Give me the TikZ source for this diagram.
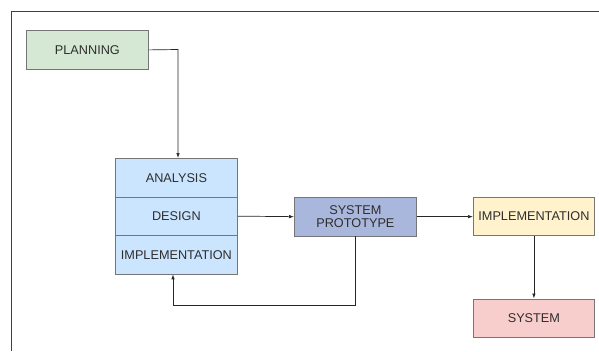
\documentclass[tikz,border=0pt]{standalone}
\usepackage{fontspec}
\setmainfont{Liberation Sans}
\usetikzlibrary{arrows.meta}
\definecolor{planfill}{HTML}{D5E8D4}
\definecolor{stackfill}{HTML}{CCE5FF}
\definecolor{protofill}{HTML}{A9B7DC}
\definecolor{implfill}{HTML}{FFF2CC}
\definecolor{sysfill}{HTML}{F8CECC}
\definecolor{boxline}{HTML}{767676}
\definecolor{txt}{HTML}{2E2E2E}
\tikzset{
  box/.style={draw=boxline, line width=0.8pt, minimum width=122pt, minimum height=38.5pt, inner sep=0pt, align=center, text=txt, font=\fontsize{12.7}{13.5}\selectfont, anchor=north west},
  conn/.style={draw=black!85, line width=0.7pt, -{Latex[length=5pt,width=3.5pt]}},
}
\begin{document}
\begin{tikzpicture}[x=1pt,y=-1pt]
\useasboundingbox (0,0) rectangle (599,351);
\draw[line width=1pt, black!75] (11,351) -- (11,11) -- (599,11);
\node[box, fill=planfill, minimum width=122pt, minimum height=39pt] (plan) at (26,30) {PLANNING};
\node[box, fill=stackfill] (ana) at (115,158) {ANALYSIS};
\node[box, fill=stackfill] (des) at (115,196.5) {DESIGN};
\node[box, fill=stackfill] (imp) at (115,235) {IMPLEMENTATION};
\node[box, fill=protofill, text width=110pt] (proto) at (294,197) {SYSTEM\\[-1pt]PROTOTYPE};
\node[box, fill=implfill, minimum width=121pt] (impl) at (473,196.5) {IMPLEMENTATION};
\node[box, fill=sysfill, minimum width=121pt] (sys) at (473,298.5) {SYSTEM};
\coordinate (c1) at (178,49.5);
\draw[conn] (plan.east) -- (c1) -- (c1 |- ana.north);
\draw[conn] (des.east) -- (proto.west);
\coordinate (c2) at (355,305);
\coordinate (c3) at (173,305);
\draw[conn] (proto.south -| c2) -- (c2) -- (c3) -- (c3 |- imp.south);
\draw[conn] (proto.east) -- (impl.west |- proto.east);
\draw[conn] (impl.south) -- (sys.north);
\end{tikzpicture}
\end{document}
